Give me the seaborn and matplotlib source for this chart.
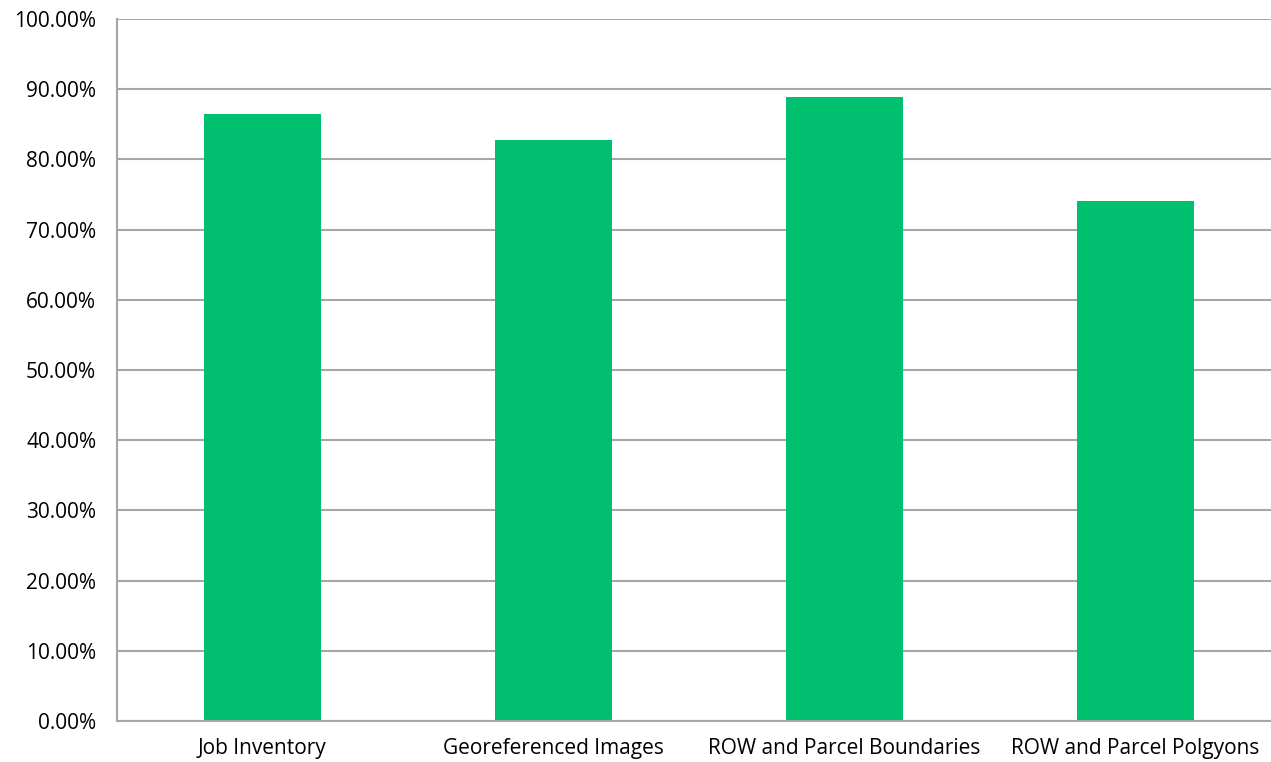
import matplotlib
matplotlib.use("Agg")
import matplotlib.pyplot as plt
import seaborn as sns
import pandas as pd
from matplotlib.ticker import FuncFormatter, FixedLocator, NullFormatter

categories = ["Job Inventory", "Georeferenced Images",
              "ROW and Parcel Boundaries", "ROW and Parcel Polgyons"]
completion = [86.5, 82.8, 88.9, 74.1]

df = pd.DataFrame({"Category": categories, "Completion": completion})

sns.set_style("white")
plt.rcParams["font.family"] = ["Open Sans", "DejaVu Sans"]

fig = plt.figure(figsize=(12.71, 7.62), dpi=100)
ax = fig.add_axes([117 / 1271, 41 / 762, 1164 / 1271, 702 / 762])

sns.barplot(data=df, x="Category", y="Completion", color="#00BF6F",
            width=0.4, saturation=1, linewidth=0, ax=ax)

ax.set_ylim(0, 100)
ax.set_xlim(-0.5, len(categories) - 0.5)
ax.set_yticks(range(0, 101, 10))
ax.yaxis.set_major_formatter(FuncFormatter(lambda v, p: f"{v:.2f}%"))
ax.yaxis.grid(True, color="#A6A6A6", linewidth=1.5)
ax.set_axisbelow(True)
ax.set_xlabel("")
ax.set_ylabel("")

# category boundary ticks like Excel
ax.tick_params(axis="x", which="major", length=0, labelsize=15, pad=12, labelcolor="black")
ax.xaxis.set_minor_locator(FixedLocator([i - 0.5 for i in range(len(categories) + 1)]))
ax.xaxis.set_minor_formatter(NullFormatter())
ax.tick_params(axis="x", which="minor", length=7, width=1.5, color="#A6A6A6", direction="out")
ax.tick_params(axis="y", length=7, width=1.5, color="#A6A6A6", labelsize=15, pad=8,
               direction="out", labelcolor="black")

for side in ["top", "right"]:
    ax.spines[side].set_visible(False)
for side in ["left", "bottom"]:
    ax.spines[side].set_color("#A6A6A6")
    ax.spines[side].set_linewidth(1.5)

fig.savefig("out.png", dpi=100)
